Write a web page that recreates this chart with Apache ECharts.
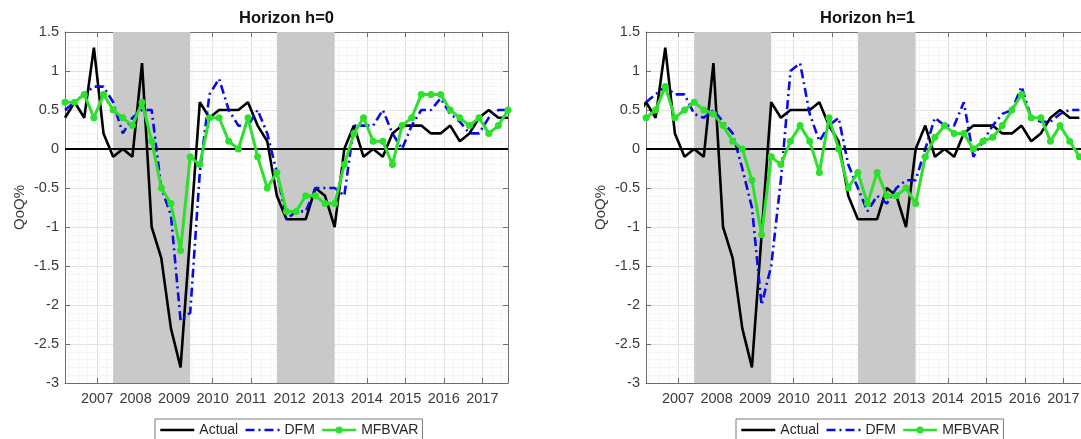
<!DOCTYPE html>
<html>
<head>
<meta charset="utf-8">
<script src="https://cdn.jsdelivr.net/npm/echarts@6/dist/echarts.min.js"></script>
<style>
html,body{margin:0;padding:0;background:#ffffff;overflow:hidden;}
#chart{width:1092px;height:439px;}
</style>
</head>
<body>
<div id="chart"></div>
<script>
// ---------------- data ----------------
const quarters = [
  '2006Q1','2006Q2','2006Q3','2006Q4',
  '2007Q1','2007Q2','2007Q3','2007Q4',
  '2008Q1','2008Q2','2008Q3','2008Q4',
  '2009Q1','2009Q2','2009Q3','2009Q4',
  '2010Q1','2010Q2','2010Q3','2010Q4',
  '2011Q1','2011Q2','2011Q3','2011Q4',
  '2012Q1','2012Q2','2012Q3','2012Q4',
  '2013Q1','2013Q2','2013Q3','2013Q4',
  '2014Q1','2014Q2','2014Q3','2014Q4',
  '2015Q1','2015Q2','2015Q3','2015Q4',
  '2016Q1','2016Q2','2016Q3','2016Q4',
  '2017Q1','2017Q2','2017Q3'
];
const actual = [
  0.4, 0.6, 0.4, 1.3, 0.2, -0.1, 0.0, -0.1,
  1.1, -1.0, -1.4, -2.3, -2.8, -1.1, 0.6, 0.4,
  0.5, 0.5, 0.5, 0.6, 0.3, 0.1, -0.6, -0.9,
  -0.9, -0.9, -0.5, -0.6, -1.0, 0.0, 0.3, -0.1,
  0.0, -0.1, 0.2, 0.3, 0.3, 0.3, 0.2, 0.2,
  0.3, 0.1, 0.2, 0.4, 0.5, 0.4, 0.4
];
const dfmH0 = [
  0.5, 0.6, 0.7, 0.8, 0.8, 0.6, 0.2, 0.4,
  0.5, 0.5, -0.5, -0.85, -2.2, -2.1, -0.3, 0.7,
  0.9, 0.5, 0.3, 0.3, 0.5, 0.2, -0.3, -0.9,
  -0.8, -0.8, -0.5, -0.5, -0.5, -0.6, 0.3, 0.3,
  0.3, 0.5, 0.2, 0.0, 0.3, 0.5, 0.5, 0.65,
  0.45, 0.35, 0.2, 0.2, 0.4, 0.5, 0.5
];
const mfbvarH0 = [
  0.6, 0.6, 0.7, 0.4, 0.7, 0.5, 0.4, 0.3,
  0.6, 0.1, -0.5, -0.7, -1.3, -0.1, -0.2, 0.4,
  0.4, 0.1, 0.0, 0.4, -0.1, -0.5, -0.3, -0.8,
  -0.8, -0.6, -0.6, -0.7, -0.7, -0.2, 0.2, 0.4,
  0.1, 0.1, -0.2, 0.3, 0.4, 0.7, 0.7, 0.7,
  0.5, 0.4, 0.3, 0.4, 0.2, 0.3, 0.5
];
// one-quarter-ahead results (first quarter has no forecast)
const dfmH1 = [
  null, 0.6, 0.7, 0.8, 0.7, 0.7, 0.45, 0.4,
  0.5, 0.35, 0.2, -0.25, -0.75, -2.0, -1.5, -0.4,
  1.0, 1.1, 0.45, 0.1, 0.3, 0.4, -0.2, -0.5,
  -0.8, -0.6, -0.7, -0.5, -0.4, -0.4, 0.0, 0.4,
  0.3, 0.3, 0.6, -0.1, 0.1, 0.3, 0.45, 0.5,
  0.8, 0.4, 0.35, 0.35, 0.45, 0.5, 0.5
];
const mfbvarH1 = [
  null, 0.4, 0.5, 0.8, 0.4, 0.5, 0.6, 0.5,
  0.45, 0.3, 0.1, 0.0, -0.4, -1.1, -0.1, -0.2,
  0.1, 0.3, 0.1, -0.3, 0.4, 0.0, -0.5, -0.3,
  -0.7, -0.3, -0.6, -0.6, -0.5, -0.7, -0.1, 0.15,
  0.3, 0.2, 0.2, 0.0, 0.1, 0.15, 0.3, 0.5,
  0.7, 0.4, 0.4, 0.1, 0.3, 0.1, -0.1
];
const recessions = [['2007Q2', '2009Q2'], ['2011Q3', '2013Q1']];
const panelTitles = ['Horizon h=0', 'Horizon h=1'];
const seriesNames = ['Actual', 'DFM', 'MFBVAR'];
const yMin = -3, yMax = 1.5, yStep = 0.5;

// ---------------- helpers ----------------
const qToYear = q => Number(q.slice(0, 4)) + (3 * Number(q.slice(5)) - 1) / 12;
const xs = quarters.map(qToYear);
const xMin = xs[0], xMax = xs[xs.length - 1];
const shiftH1 = 0.25; // h=1 panel: values dated one quarter earlier
const pairs = (xv, yv, shift) => xv.map((x, i) => [x - shift, yv[i]]).filter(p => p[1] !== null);

const FONT = '"Liberation Sans", Arial, Helvetica, sans-serif';
const AXIS_COLOR = '#6e6e6e';
const LABEL_COLOR = '#3a3a3a';
const GRID_COLOR = '#e2e2e2';
const MINOR_COLOR = '#ececec';
const BAND_COLOR = '#c9c9c9';
const COLORS = {Actual: '#000000', DFM: '#0a0ae6', MFBVAR: '#2ce02c'};

const panels = [
  {left: 65, actualShift: 0, fShift: 0, dfm: dfmH0, mfb: mfbvarH0},
  {left: 646, actualShift: shiftH1, fShift: shiftH1, dfm: dfmH1, mfb: mfbvarH1}
];
const GRID_W = 443, GRID_H = 351, GRID_TOP = 32;

const grids = [], xAxes = [], yAxes = [], series = [], titles = [], legends = [];

panels.forEach((p, pi) => {
  grids.push({left: p.left, top: GRID_TOP, width: GRID_W, height: GRID_H, containLabel: false});
  const xBase = {
    type: 'value', gridIndex: pi, min: xMin, max: xMax,
    splitNumber: 11, minInterval: 1, maxInterval: 1,
    axisLine: {show: true, onZero: false, lineStyle: {color: AXIS_COLOR, width: 1}},
    axisTick: {show: true, inside: true, length: 5, lineStyle: {color: AXIS_COLOR, width: 1}},
    minorTick: {show: false, splitNumber: 4}
  };
  xAxes.push(Object.assign({}, xBase, {
    position: 'bottom',
    axisLabel: {show: true, showMinLabel: false, showMaxLabel: false, margin: 8,
      fontSize: 14.5, color: LABEL_COLOR, fontFamily: FONT,
      formatter: v => String(Math.round(v))},
    splitLine: {show: true, lineStyle: {color: GRID_COLOR, width: 1}},
    minorSplitLine: {show: true, lineStyle: {color: MINOR_COLOR, width: 1, type: 'dotted'}}
  }));
  xAxes.push(Object.assign({}, xBase, {
    position: 'top', axisLabel: {show: false}, splitLine: {show: false}
  }));
  const yBase = {
    type: 'value', gridIndex: pi, min: yMin, max: yMax, interval: yStep,
    axisLine: {show: true, onZero: false, lineStyle: {color: AXIS_COLOR, width: 1}},
    axisTick: {show: true, inside: true, length: 5, lineStyle: {color: AXIS_COLOR, width: 1}},
    minorTick: {show: false, splitNumber: 5}
  };
  yAxes.push(Object.assign({}, yBase, {
    position: 'left',
    name: 'QoQ%', nameLocation: 'middle', nameGap: 38,
    nameTextStyle: {fontSize: 15, color: LABEL_COLOR, fontFamily: FONT},
    axisLabel: {show: true, margin: 6, fontSize: 14.5, color: LABEL_COLOR, fontFamily: FONT},
    splitLine: {show: true, lineStyle: {color: GRID_COLOR, width: 1}},
    minorSplitLine: {show: true, lineStyle: {color: MINOR_COLOR, width: 1, type: 'dotted'}}
  }));
  yAxes.push(Object.assign({}, yBase, {
    position: 'right', axisLabel: {show: false}, splitLine: {show: false}
  }));

  const xi = pi * 2, yi = pi * 2;
  // recession shading
  series.push({
    type: 'line', xAxisIndex: xi, yAxisIndex: yi, data: [], z: 1, silent: true,
    markArea: {silent: true, itemStyle: {color: BAND_COLOR},
      data: recessions.map(r => [{xAxis: qToYear(r[0])}, {xAxis: qToYear(r[1])}])}
  });
  // zero line
  series.push({
    type: 'line', xAxisIndex: xi, yAxisIndex: yi, data: [], z: 2, silent: true,
    markLine: {silent: true, symbol: 'none', label: {show: false},
      lineStyle: {color: '#000000', width: 2, type: 'solid'}, data: [{yAxis: 0}]}
  });
  series.push({
    name: 'Actual', type: 'line', xAxisIndex: xi, yAxisIndex: yi, z: 3,
    data: pairs(xs, actual, p.actualShift), symbol: 'none', clip: true,
    lineStyle: {color: COLORS.Actual, width: 2.6}, itemStyle: {color: COLORS.Actual}
  });
  series.push({
    name: 'DFM', type: 'line', xAxisIndex: xi, yAxisIndex: yi, z: 4,
    data: pairs(xs, p.dfm, p.fShift), symbol: 'none', clip: true,
    lineStyle: {color: COLORS.DFM, width: 2.6, type: [9, 4, 2, 4]}, itemStyle: {color: COLORS.DFM}
  });
  series.push({
    name: 'MFBVAR', type: 'line', xAxisIndex: xi, yAxisIndex: yi, z: 5,
    data: pairs(xs, p.mfb, p.fShift), symbol: 'circle', symbolSize: 7, showSymbol: true, clip: true,
    lineStyle: {color: COLORS.MFBVAR, width: 3}, itemStyle: {color: COLORS.MFBVAR}
  });

  titles.push({
    text: panelTitles[pi], left: p.left + GRID_W / 2, top: 10, textAlign: 'center', padding: 0,
    textStyle: {fontSize: 16.5, fontWeight: 'bold', color: '#111111', fontFamily: FONT}
  });
  legends.push({
    left: p.left + 90, top: 419, orient: 'horizontal',
    itemWidth: 34, itemHeight: 9, itemGap: 6,
    padding: [4, 4, 8, 4], borderColor: '#7a7a7a', borderWidth: 1, backgroundColor: '#ffffff',
    selectedMode: false,
    textStyle: {fontSize: 14, color: '#262626', fontFamily: FONT},
    lineStyle: {width: 2.6},
    data: [
      {name: 'Actual', itemStyle: {opacity: 0}},
      {name: 'DFM', itemStyle: {opacity: 0}},
      {name: 'MFBVAR'}
    ]
  });
});

const chart = echarts.init(document.getElementById('chart'), null, {renderer: 'canvas'});
chart.setOption({
  animation: false,
  backgroundColor: '#ffffff',
  title: titles,
  legend: legends,
  grid: grids,
  xAxis: xAxes,
  yAxis: yAxes,
  series: series
});
</script>
</body>
</html>
